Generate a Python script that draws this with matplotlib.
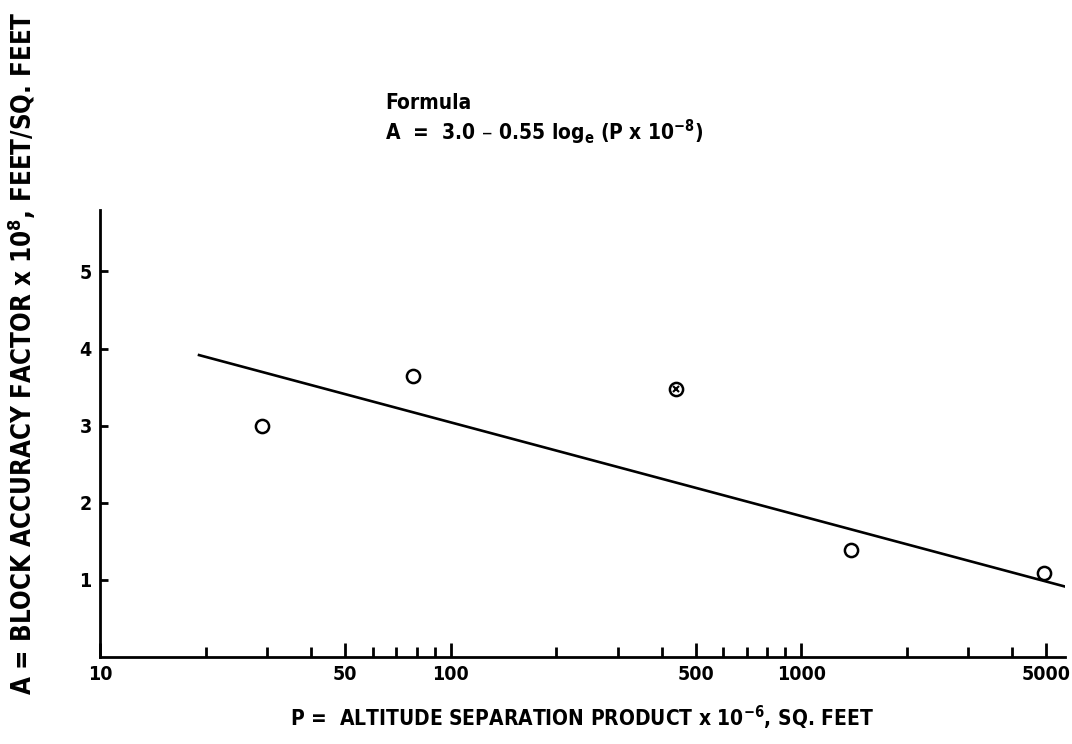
import matplotlib
matplotlib.use("Agg")
import matplotlib.pyplot as plt
from matplotlib.ticker import FixedLocator, NullFormatter, FixedFormatter

plt.rcParams['font.family'] = ['DejaVu Sans']
plt.rcParams['font.stretch'] = 'condensed'
plt.rcParams['font.weight'] = 'bold'
plt.rcParams['mathtext.default'] = 'regular'

# Data
p_open = [29, 78, 1390, 4930]
a_open = [3.0, 3.64, 1.39, 1.09]
p_cross = [440]
a_cross = [3.48]
p_line = [19, 5800]
a_line = [3.92, 0.90]

major_ticks = [10, 50, 100, 500, 1000, 5000]
major_labels = ["10", "50", "100", "500", "1000", "5000"]
minor_ticks = [20, 30, 40, 60, 70, 80, 90, 200, 300, 400, 600, 700, 800, 900,
               2000, 3000, 4000]
y_ticks = [1, 2, 3, 4, 5]

fig = plt.figure(figsize=(10.72, 7.44), dpi=100)
ax = fig.add_axes([0.0933, 0.117, 0.9, 0.601])
ax.set_xscale('log')
ax.set_xlim(10, 5650)
ax.set_ylim(0, 5.8)

ax.plot(p_line, a_line, color='black', lw=1.9, solid_capstyle='butt')
ax.plot(p_open, a_open, linestyle='none', marker='o', ms=9.5, mfc='white',
        mec='black', mew=1.8)
ax.plot(p_cross, a_cross, linestyle='none', marker='o', ms=9.5, mfc='white',
        mec='black', mew=1.8)
ax.plot(p_cross, a_cross, linestyle='none', marker='x', ms=5, mec='black',
        mew=1.5)

for s in ['top', 'right']:
    ax.spines[s].set_visible(False)
for s in ['left', 'bottom']:
    ax.spines[s].set_linewidth(2.0)

ax.xaxis.set_major_locator(FixedLocator(major_ticks))
ax.xaxis.set_major_formatter(FixedFormatter(major_labels))
ax.xaxis.set_minor_locator(FixedLocator(minor_ticks))
ax.xaxis.set_minor_formatter(NullFormatter())
ax.tick_params(axis='x', which='major', direction='in', length=10, width=2,
               labelsize=14, pad=6)
ax.tick_params(axis='x', which='minor', direction='in', length=7, width=2)
ax.set_yticks(y_ticks)
ax.set_yticklabels([str(v) for v in y_ticks])
ax.tick_params(axis='y', which='major', direction='in', length=6, width=2,
               labelsize=14, pad=6)

ax.set_xlabel(r"P =  ALTITUDE SEPARATION PRODUCT x 10$^{-6}$, SQ. FEET",
              fontsize=15, fontweight='bold', labelpad=14)
fig.text(0.02, 0.525, r"A = BLOCK ACCURACY FACTOR x 10$^{8}$, FEET/SQ. FEET",
         rotation=90, fontsize=18.5, fontweight='bold', ha='center', va='center')

fig.text(0.359, 0.862, "Formula", fontsize=15, fontweight='bold',
         ha='left', va='center')
fig.text(0.359, 0.822, r"A  =  3.0 – 0.55 log$_{e}$ (P x 10$^{-8}$)",
         fontsize=15, fontweight='bold', ha='left', va='center')

fig.savefig("out.png", dpi=100)
